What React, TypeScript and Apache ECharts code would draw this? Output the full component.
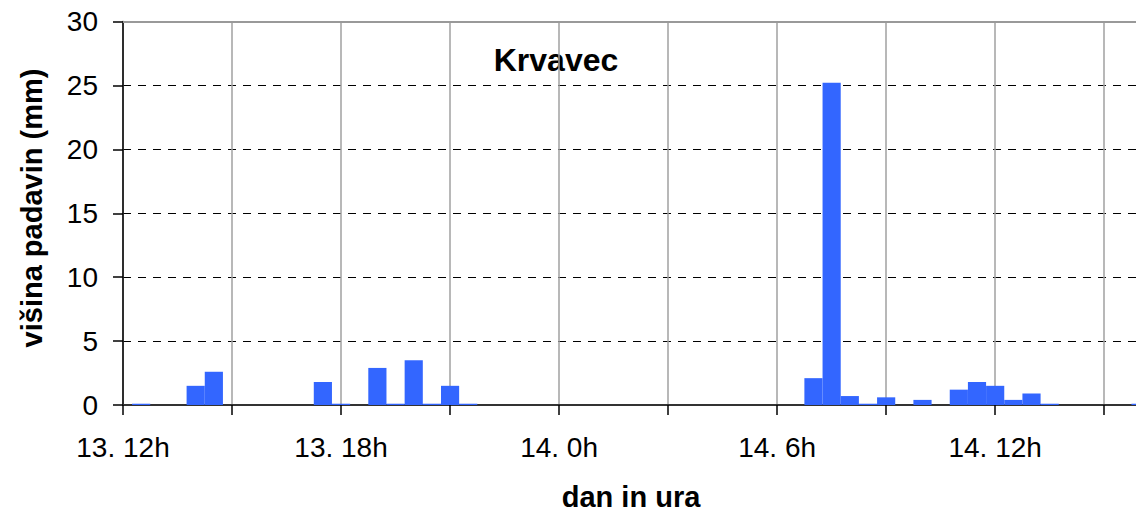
import React, { useEffect, useRef } from "react";
import * as echarts from "echarts";

// half-hour steps starting at 13. 12h
const startDay = 13;
const startHour = 12;
const stepCount = 58;

const rainfall = [
  0, 0.1, 0, 0, 1.5, 2.6, 0, 0, 0, 0,
  0, 1.8, 0.1, 0, 2.9, 0.1, 3.5, 0.1, 1.5, 0.1,
  0, 0, 0, 0, 0, 0, 0, 0, 0, 0,
  0, 0, 0, 0, 0, 0, 0, 0, 2.1, 25.2,
  0.7, 0.1, 0.6, 0, 0.4, 0, 1.2, 1.8, 1.5, 0.4,
  0.9, 0.1, 0, 0, 0, 0, 0.1, 0,
];

const tickLabels = ["13. 12h", "13. 18h", "14. 0h", "14. 6h", "14. 12h"];

const categories: string[] = [];
for (let i = 0; i < stepCount; i++) {
  const totalMin = startHour * 60 + i * 30;
  const day = startDay + Math.floor(totalMin / 1440);
  const h = Math.floor((totalMin % 1440) / 60);
  const m = totalMin % 60;
  categories.push(m === 0 ? `${day}. ${h}h` : `${day}. ${h}:${m}h`);
}

const titleText = "Krvavec";
const xName = "dan in ura";
const yName = "višina padavin (mm)";

export default function App() {
  const ref = useRef<HTMLDivElement>(null);
  useEffect(() => {
    if (!ref.current) return;
    const chart = echarts.init(ref.current, undefined, { renderer: "svg" });
    const font = "'Liberation Sans', Arial, sans-serif";
    chart.setOption({
      animation: false,
      backgroundColor: "#ffffff",
      textStyle: { fontFamily: font },
      grid: { left: 123, top: 21.5, bottom: 108, right: 1.3, containLabel: false },
      xAxis: [
        {
          type: "category",
          data: categories,
          boundaryGap: false,
          axisLine: { show: true, lineStyle: { color: "#333333", width: 2 } },
          axisTick: { show: true, interval: 5, length: 10, lineStyle: { color: "#000000", width: 1.5 } },
          axisLabel: {
            interval: 11,
            fontSize: 28,
            color: "#000000",
            margin: 28,
            fontFamily: font,
            formatter: (v: string) => (tickLabels.includes(v) ? v : ""),
          },
          splitLine: { show: true, interval: 5, lineStyle: { color: "#a0a0a0", width: 1.5 } },
        },
        {
          type: "category",
          data: categories,
          boundaryGap: false,
          position: "top",
          axisLine: { show: true, lineStyle: { color: "#999999", width: 2 } },
          axisTick: { show: false },
          axisLabel: { show: false },
          splitLine: { show: false },
        },
      ],
      yAxis: {
        type: "value",
        min: 0,
        max: 30,
        interval: 5,
        axisLine: { show: true, lineStyle: { color: "#000000", width: 1.5 } },
        axisTick: { show: true, length: 10, lineStyle: { color: "#000000", width: 1.5 } },
        axisLabel: { fontSize: 28, color: "#000000", margin: 25, fontFamily: font },
        splitLine: { show: true, lineStyle: { color: "#000000", width: 1, type: [8, 7] } },
      },
      graphic: [
        {
          type: "text",
          x: 556,
          y: 60,
          style: {
            text: titleText,
            font: `bold 32px ${font}`,
            fill: "#000000",
            align: "center",
            verticalAlign: "middle",
          },
        },
        {
          type: "text",
          x: 631,
          y: 497,
          style: {
            text: xName,
            font: `bold 29px ${font}`,
            fill: "#000000",
            align: "center",
            verticalAlign: "middle",
          },
        },
        {
          type: "text",
          x: 32,
          y: 208,
          rotation: Math.PI / 2,
          style: {
            text: yName,
            font: `bold 29px ${font}`,
            fill: "#000000",
            align: "center",
            verticalAlign: "middle",
          },
        },
      ],
      series: [
        {
          type: "bar",
          data: rainfall,
          xAxisIndex: 0,
          barWidth: "100%",
          barCategoryGap: 0,
          itemStyle: { color: "#3366ff" },
        },
      ],
    });
    return () => chart.dispose();
  }, []);
  return (
    <div
      style={{
        position: "absolute",
        left: 0,
        top: 0,
        width: 1136,
        height: 513,
        overflow: "hidden",
        background: "#ffffff",
      }}
    >
      <div ref={ref} style={{ width: 1160, height: 513 }} />
    </div>
  );
}
